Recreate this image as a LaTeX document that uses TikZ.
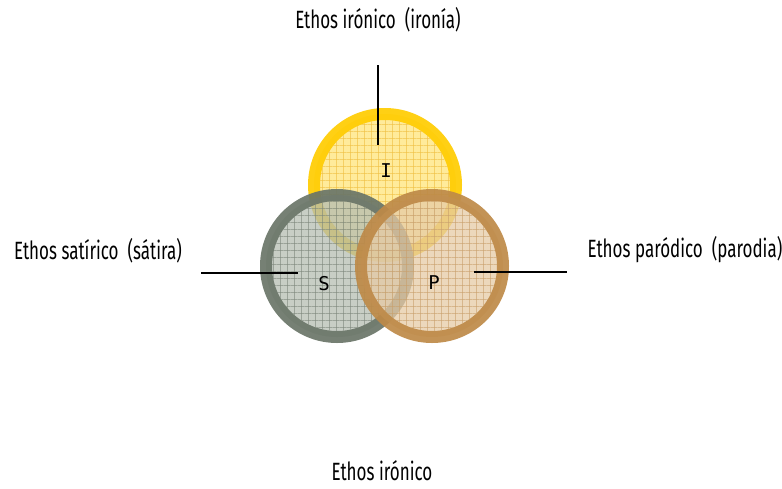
\documentclass[tikz,border=0pt]{standalone}
\usepackage{fontspec}
\usetikzlibrary{patterns.meta}
\newfontfamily\lblfont[FakeStretch=0.68]{Fira Sans}
\newfontfamily\letfont{DejaVu Sans Mono}
\definecolor{iring}{HTML}{FFCC00}
\definecolor{ifill}{HTML}{FFE47A}
\definecolor{igrid}{HTML}{F0C040}
\definecolor{sring}{HTML}{6A7568}
\definecolor{sfill}{HTML}{B5BDB2}
\definecolor{sgrid}{HTML}{7E887B}
\definecolor{pring}{HTML}{BE8A48}
\definecolor{pfill}{HTML}{E6CBA6}
\definecolor{pgrid}{HTML}{C9A06C}
\tikzset{
  x=1pt, y=-1pt,
  lbl/.style={font=\lblfont\fontsize{25}{28}\selectfont, inner sep=0pt},
  letter/.style={font=\letfont\fontsize{19}{22}\selectfont, inner sep=0pt},
  ring/.style={circle, minimum size=142pt, line width=12pt, inner sep=0pt, draw opacity=0.92, fill opacity=0.75},
  leader/.style={draw=black, line width=1.1pt},
}
\begin{document}
\begin{tikzpicture}
\useasboundingbox (0,0) rectangle (782,488);
% circles
\node[ring, draw=iring, fill=ifill] (ci) at (385,185) {};
\fill[pattern={Lines[distance=7pt,angle=0,line width=0.5pt]}, pattern color=igrid, opacity=0.6] (385,185) circle (65);
\fill[pattern={Lines[distance=7pt,angle=90,line width=0.5pt]}, pattern color=igrid, opacity=0.6] (385,185) circle (65);
\node[ring, draw=sring, fill=sfill] (cs) at (337,266) {};
\fill[pattern={Lines[distance=7pt,angle=0,line width=0.5pt]}, pattern color=sgrid, opacity=0.6] (337,266) circle (65);
\fill[pattern={Lines[distance=7pt,angle=90,line width=0.5pt]}, pattern color=sgrid, opacity=0.6] (337,266) circle (65);
\node[ring, draw=pring, fill=pfill] (cp) at (432,266) {};
\fill[pattern={Lines[distance=7pt,angle=0,line width=0.5pt]}, pattern color=pgrid, opacity=0.6] (432,266) circle (65);
\fill[pattern={Lines[distance=7pt,angle=90,line width=0.5pt]}, pattern color=pgrid, opacity=0.6] (432,266) circle (65);
% letters
\node[letter] (li) at (386,171) {I};
\node[letter] (ls) at (324,284) {S};
\node[letter] (lp) at (434,283) {P};
% labels
\node[lbl] (ti) at (378,20) {Ethos irónico\ \ (ironía)};
\node[lbl] (ts) at (98,251) {Ethos satírico\ \ (sátira)};
\node[lbl] (tp) at (685,250) {Ethos paródico\ \ (parodia)};
\node[lbl] (tb) at (382,471) {Ethos irónico};
% leaders
\coordinate (ai) at (378,65);
\coordinate (bi) at (378,145);
\coordinate (as) at (201,273);
\coordinate (bs) at (298,273);
\coordinate (ap) at (474,272);
\coordinate (bp) at (567,272);
\draw[leader] (ai) -- (bi);
\draw[leader] (as) -- (bs);
\draw[leader] (ap) -- (bp);
\end{tikzpicture}
\end{document}
